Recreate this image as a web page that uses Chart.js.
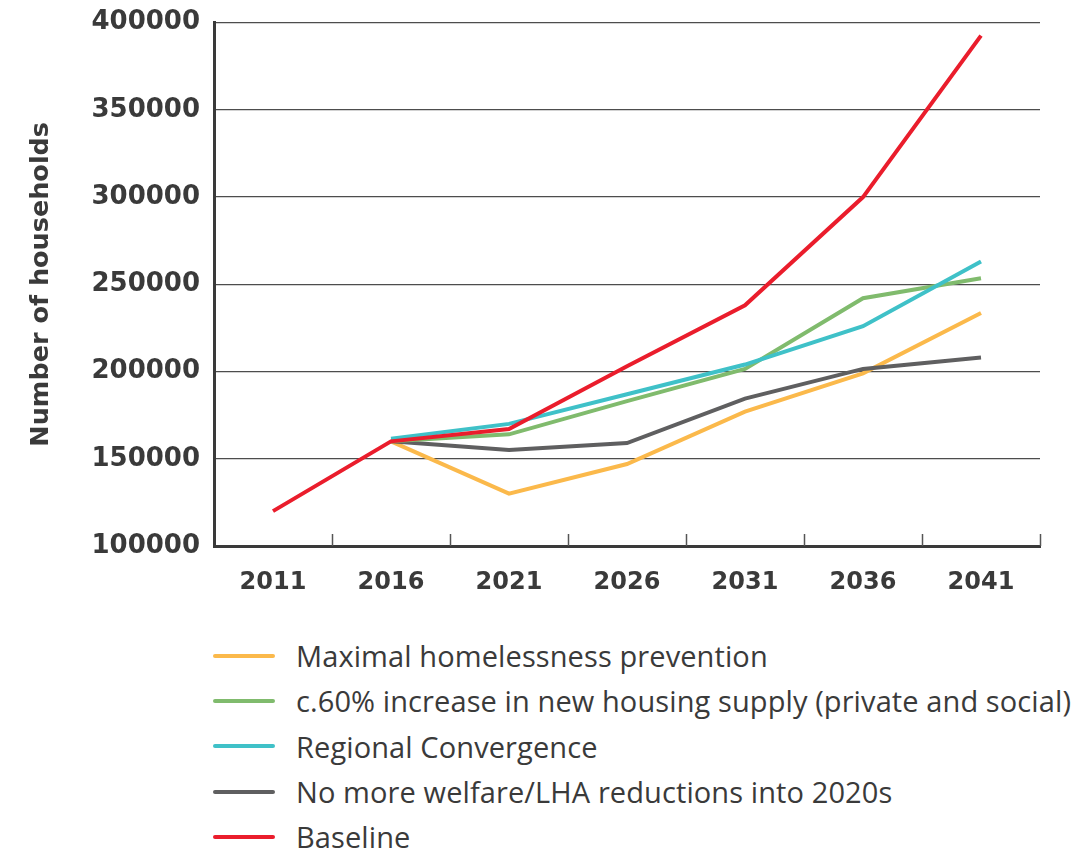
<!DOCTYPE html>
<html>
<head>
<meta charset="utf-8">
<script src="https://cdn.jsdelivr.net/npm/chart.js@4"></script>
<style>
  body { margin: 0; background: #fff; }
  #wrap { position: absolute; left: 0; top: -7px; width: 1087px; height: 607px; }
  #legend { position: absolute; left: 213px; top: 633px; font-family: "Open Sans", sans-serif; font-weight: 500; font-size: 29px; letter-spacing: 0.1px; color: #3a3a3a; }
  #legend .row { height: 45.3px; display: flex; align-items: center; white-space: nowrap; }
  #legend .swatch { width: 62px; height: 4px; border-radius: 2px; margin-right: 21px; }
</style>
</head>
<body>
<div id="wrap"><canvas id="hhChart"></canvas></div>
<div id="legend"></div>
<script>
const years = ["2011", "2016", "2021", "2026", "2031", "2036", "2041"];
const yTicks = [100000, 150000, 200000, 250000, 300000, 350000, 400000];

const baseline = [120000, 160000, 167000, 203000, 238000, 300000, 392500];
const prevention = [null, 160000, 130000, 147000, 177000, 199000, 233500];
const housingSupply = [null, 160000, 164000, 183000, 201500, 242000, 253500];
const regional = [null, 161500, 170000, 187000, 204000, 226000, 263000];
const noWelfareCuts = [null, 160000, 155000, 159000, 184500, 201500, 208000];

// legend order (top to bottom)
const series = [
  { label: "Maximal homelessness prevention", data: prevention, color: "#fbb94b" },
  { label: "c.60% increase in new housing supply (private and social)", data: housingSupply, color: "#80bb6d" },
  { label: "Regional Convergence", data: regional, color: "#3fc1c8" },
  { label: "No more welfare/LHA reductions into 2020s", data: noWelfareCuts, color: "#5f5f60" },
  { label: "Baseline", data: baseline, color: "#ea1d2c" },
];

// draw order: baseline on top, then the rest
const drawOrder = [4, 2, 1, 3, 0];

const tickFont = { family: "DejaVu Sans", weight: "bold", size: 26 };
const axisColor = "#3a3a3a";

const upTicks = {
  id: "upTicks",
  afterDraw(chart) {
    const x = chart.scales.x;
    const c = chart.ctx;
    c.save();
    c.strokeStyle = "#555";
    c.lineWidth = 1.5;
    for (let i = 1; i <= years.length; i++) {
      const px = Math.round(x.getPixelForValue(i - 0.5)) + 0.5;
      c.beginPath();
      c.moveTo(px, x.top);
      c.lineTo(px, x.top - 12);
      c.stroke();
    }
    c.restore();
  },
};

const chart = new Chart(document.getElementById("hhChart"), {
  type: "line",
  data: {
    labels: years,
    datasets: drawOrder.map((i) => ({
      label: series[i].label,
      data: series[i].data,
      borderColor: series[i].color,
      backgroundColor: series[i].color,
      borderWidth: 4,
      pointRadius: 0,
      tension: 0,
      fill: false,
    })),
  },
  options: {
    responsive: true,
    maintainAspectRatio: false,
    animation: false,
    layout: { padding: { top: 14, right: 47, left: 0, bottom: 0 } },
    plugins: { legend: { display: false }, tooltip: { enabled: false } },
    scales: {
      x: {
        offset: true,
        grid: { display: false, offset: true },
        border: { color: axisColor, width: 3 },
        ticks: { color: axisColor, font: { family: "DejaVu Sans", weight: "bold", size: 24 }, padding: 14 },
        afterFit(s) { s.height = 54; },
      },
      y: {
        min: yTicks[0],
        max: yTicks[yTicks.length - 1],
        afterBuildTicks(s) { s.ticks = yTicks.map((v) => ({ value: v })); },
        grid: { color: "#4d4d4d", lineWidth: 1.3, drawTicks: false },
        border: { color: axisColor, width: 3 },
        ticks: { color: axisColor, font: tickFont, padding: 14, callback: (v) => String(v) },
        title: {
          display: true,
          text: "Number of households",
          color: axisColor,
          font: { family: "DejaVu Sans", weight: "bold", size: 25.5 },
          padding: { top: 26, bottom: 0 },
        },
        afterFit(s) { s.width = 214; },
      },
    },
  },
  plugins: [upTicks],
});

const legendEl = document.getElementById("legend");
series.forEach((s) => {
  const row = document.createElement("div");
  row.className = "row";
  const sw = document.createElement("span");
  sw.className = "swatch";
  sw.style.background = s.color;
  const txt = document.createElement("span");
  txt.textContent = s.label;
  row.appendChild(sw);
  row.appendChild(txt);
  legendEl.appendChild(row);
});
</script>
</body>
</html>
